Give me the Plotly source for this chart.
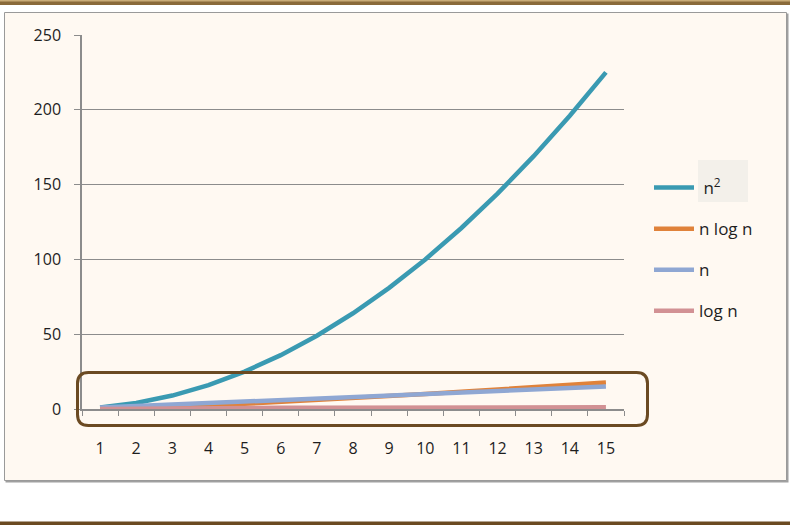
import plotly.graph_objects as go

# ---- data ----
categories = [1, 2, 3, 4, 5, 6, 7, 8, 9, 10, 11, 12, 13, 14, 15]
n_squared = [1, 4, 9, 16, 25, 36, 49, 64, 81, 100, 121, 144, 169, 196, 225]
n_log_n = [0, 0.6, 1.43, 2.41, 3.49, 4.67, 5.92, 7.22, 8.59, 10.0, 11.46, 12.95, 14.48, 16.05, 17.64]
n_linear = [1, 2, 3, 4, 5, 6, 7, 8, 9, 10, 11, 12, 13, 14, 15]
log_n = [0, 0.30, 0.48, 0.60, 0.70, 0.78, 0.85, 0.90, 0.95, 1.0, 1.04, 1.08, 1.11, 1.15, 1.18]
series_names = ["n<sup>2</sup>", "n log n", "n", "log n"]
y_ticks = [0, 50, 100, 150, 200, 250]

# ---- layout geometry (pixels) ----
W, H = 790, 525
L, R, T, B = 82, 166, 35, 116
PW, PH = W - L - R, H - T - B


def px(x):
    return (x - L) / PW


def py(y):
    return (H - B - y) / PH


colors = ["#3A9AB2", "#E0823A", "#8FA7D3", "#D29194"]
series = [n_squared, n_log_n, n_linear, log_n]

fig = go.Figure()
for i, (name, vals) in enumerate(zip(series_names, series)):
    fig.add_trace(go.Scatter(
        x=categories, y=vals, mode="lines", name=(" " + name) if i == 0 else name,
        line=dict(color=colors[i], width=4.5), legendgroup=f"g{i}"))

font_family = "Open Sans, Lato, sans-serif"

shapes = []
# cream panel with shadow
shapes.append(dict(type="rect", xref="paper", yref="paper", layer="below",
                   x0=px(5.5), x1=px(788.5), y0=py(13.5), y1=py(482.5),
                   fillcolor="#A0A0A0", line=dict(width=0)))
shapes.append(dict(type="rect", xref="paper", yref="paper", layer="below",
                   x0=px(4.5), x1=px(786.5), y0=py(12.5), y1=py(480.5),
                   fillcolor="#FFF9F2", line=dict(color="#9A9A9A", width=1)))
# top brown band
shapes.append(dict(type="rect", xref="paper", yref="paper", layer="below",
                   x0=px(0), x1=px(790), y0=py(0), y1=py(5),
                   fillcolor="#8A6A3A", line=dict(width=0)))
shapes.append(dict(type="rect", xref="paper", yref="paper", layer="below",
                   x0=px(0), x1=px(790), y0=py(0), y1=py(1.5),
                   fillcolor="#C9AC78", line=dict(width=0)))
# bottom brown line
shapes.append(dict(type="rect", xref="paper", yref="paper", layer="below",
                   x0=px(0), x1=px(790), y0=py(521.5), y1=py(525),
                   fillcolor="#6B4A22", line=dict(width=0)))
# highlight behind n^2 legend label
shapes.append(dict(type="rect", xref="paper", yref="paper", layer="below",
                   x0=px(698), x1=px(748), y0=py(160), y1=py(202),
                   fillcolor="#F3F0EA", line=dict(width=0)))

# rounded rectangle annotation box
x0, x1, y0, y1, r = 77.5, 647.5, 372.5, 425.5, 11
path = (f"M {px(x0 + r)},{py(y0)} L {px(x1 - r)},{py(y0)} "
        f"Q {px(x1)},{py(y0)} {px(x1)},{py(y0 + r)} L {px(x1)},{py(y1 - r)} "
        f"Q {px(x1)},{py(y1)} {px(x1 - r)},{py(y1)} L {px(x0 + r)},{py(y1)} "
        f"Q {px(x0)},{py(y1)} {px(x0)},{py(y1 - r)} L {px(x0)},{py(y0 + r)} "
        f"Q {px(x0)},{py(y0)} {px(x0 + r)},{py(y0)} Z")
shapes.append(dict(type="path", xref="paper", yref="paper", layer="above",
                   path=path, line=dict(color="#6B4A22", width=3)))

fig.update_layout(
    width=W, height=H,
    margin=dict(l=L, r=R, t=T, b=B, pad=0),
    paper_bgcolor="white",
    plot_bgcolor="rgba(0,0,0,0)",
    font=dict(family=font_family, size=16, color="#1E1E1E"),
    shapes=shapes,
    showlegend=True,
    legend=dict(x=px(649), y=py(170), xanchor="left", yanchor="top",
                bgcolor="rgba(0,0,0,0)", tracegroupgap=16,
                traceorder="grouped", itemwidth=40,
                font=dict(family=font_family, size=17, color="#1E1E1E")),
    xaxis=dict(range=[0.5, 15.5], tickmode="array", tickvals=categories,
               ticktext=[str(c) for c in categories], ticks="",
               showgrid=False, zeroline=False, showline=True,
               linecolor="#8C8C8C", linewidth=1.5, ticklabelstandoff=24,
               minor=dict(ticks="outside", ticklen=5, tickcolor="#8C8C8C",
                          tick0=0.5, dtick=1, showgrid=False)),
    yaxis=dict(range=[0, 250], tickmode="array", tickvals=y_ticks,
               ticks="outside", ticklen=6, tickcolor="#8C8C8C",
               showgrid=True, gridcolor="#8C8C8C", gridwidth=1,
               zeroline=False, showline=True, linecolor="#8C8C8C",
               linewidth=1.5, ticklabelstandoff=10),
)

fig.write_html("out.html", config={"displayModeBar": False},
               post_script="document.body.style.margin='0';")
